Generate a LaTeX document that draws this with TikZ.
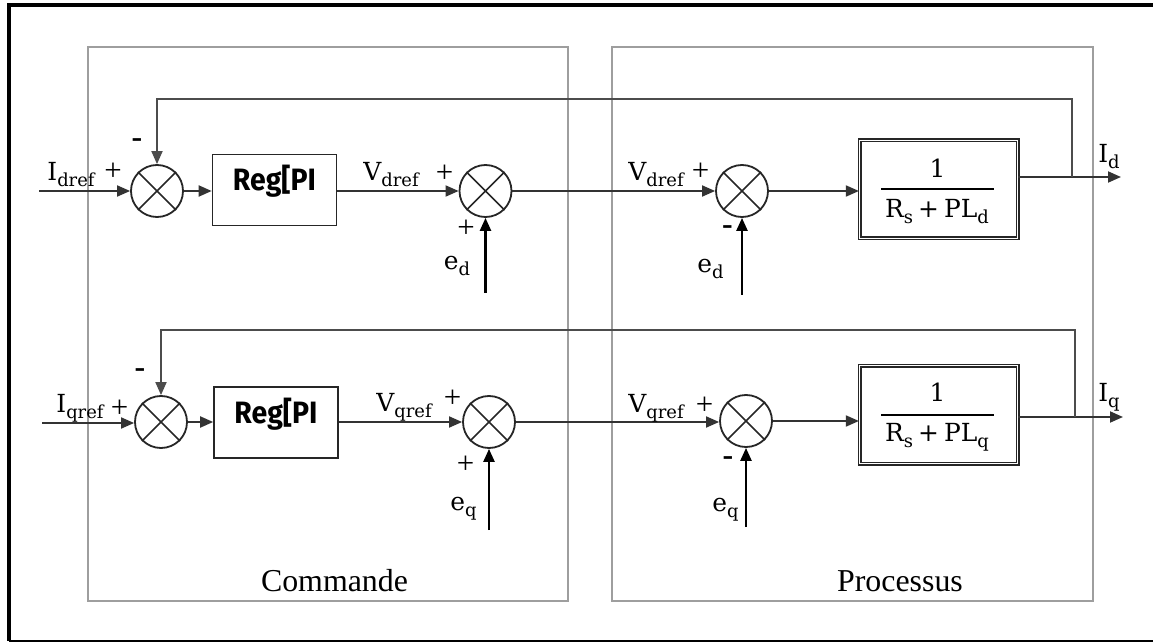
\documentclass[tikz,border=0pt]{standalone}
\usepackage{fontspec}
\setmainfont{Liberation Serif}
\newfontfamily\regfont[FakeStretch=0.92]{Fira Sans}
\newfontfamily\labfont{DejaVu Serif}
\usetikzlibrary{arrows.meta}
% symbol with a lowered, smaller index
\newcommand\symsub[2]{#1\raisebox{-6bp}{\fontsize{18}{20}\selectfont #2}}

\begin{document}
\begin{tikzpicture}[x=1bp,y=-1bp,
  sigtip/.tip={Triangle[length=13bp,width=11bp]},
  sig/.style={draw=black!80, line width=1.8bp, -sigtip},
  feedsig/.style={draw=black!70, line width=1.8bp, -sigtip},
  thickin/.style={draw=black, line width=2.4bp, -sigtip},
  sumnode/.style={circle, draw=black!85, line width=1.8bp, minimum size=52bp, inner sep=0pt},
  crossline/.style={draw=black!85, line width=1.6bp},
  regbox/.style={draw=black!85, line width=1.6bp, minimum width=124bp, minimum height=71bp, inner sep=0pt},
  regtxt/.style={inner sep=0pt, font=\regfont\bfseries\fontsize{31}{32}\selectfont},
  tfbox/.style={draw=black!85, double, double distance=1.6bp, line width=1.2bp, minimum width=158bp, minimum height=98bp, inner sep=0pt},
  fracbar/.style={draw=black, line width=1.6bp},
  zone/.style={draw=black!38, line width=2bp},
  lbl/.style={inner sep=0pt, font=\labfont\fontsize{25}{30}\selectfont},
  sgn/.style={inner sep=0pt, font=\fontsize{31}{32}\selectfont},
  negsgn/.style={inner sep=0pt, font=\fontsize{32}{32}\selectfont\bfseries},
  zonecap/.style={inner sep=0pt, font=\fontsize{32}{38}\selectfont}
]
\useasboundingbox (0,0) rectangle (1153,643);

% outer frame
\draw[line width=4bp] (1153,5) -- (9,5) -- (9,641);
\draw[line width=1.6bp] (9,641) -- (1153,641);

% controller and plant zones
\draw[zone] (88,47) rectangle (568,601);
\draw[zone] (612,47) rectangle (1093,601);
\node[zonecap] (cmd) at (334.5,581) {Commande};
\node[zonecap] (proc) at (900,581) {Processus};

% ---------------- d axis ----------------
\node[sumnode] (s1) at (157,191) {};
\node[regbox] (r1) at (274.5,190) {};
\node[regtxt] (r1t) at ([yshift=9bp]r1.center) {Reg[PI};
\node[sumnode] (s2) at (485.5,191) {};
\node[sumnode] (s3) at (742,191) {};
\node[tfbox] (b1) at (938.5,189.5) {};
\node[lbl] (b1n) at (937.5,168) {1};
\draw[fracbar] ([xshift=-57.5bp,yshift=0.5bp]b1.center) -- ([xshift=55.5bp,yshift=0.5bp]b1.center);
\node[lbl] (b1d) at (937,212) {\symsub{R}{s}\hspace{5bp}+\hspace{5bp}P\symsub{L}{d}};

\coordinate (in1) at (39,191);
\coordinate (out1) at (1121,177);
\coordinate (tap1) at (1072,177);
\coordinate (ed1) at (485.5,293);
\coordinate (ed2) at (742,295);

\draw[sig] (in1) -- (s1.west);
\draw[sig] (s1.east) -- (s1.east -| r1.west);
\draw[sig] (r1.east |- s2) -- (s2.west);
\draw[sig] (s2.east) -- (s3.west);
\draw[sig] (s3.east) -- (s3.east -| b1.west);
\draw[sig] (out1 -| b1.east) -- (out1);
\draw[feedsig] (tap1) -- ++(0,-78) -| (s1.north);
\draw[thickin] (ed1) -- (s2.south);
\draw[thickin] (ed2) -- (s3.south);

\node[lbl] (lidref) at (71,175) {\symsub{I}{dref}};
\node[sgn] (p1) at (113,172) {+};
\node[negsgn] (m1) at (137,143) {-};
\node[lbl] (lvd1) at (391,175) {\symsub{V}{dref}};
\node[sgn] (p2) at (444.5,174) {+};
\node[sgn] (p3) at (466,229) {+};
\node[lbl] (led1) at (457,266) {\symsub{e}{d}};
\node[lbl] (lvd2) at (656,175) {\symsub{V}{dref}};
\node[sgn] (p4) at (700.5,171.5) {+};
\node[negsgn] (m2) at (727.5,230.5) {-};
\node[lbl] (led2) at (710.5,268.5) {\symsub{e}{d}};
\node[lbl] (lid) at (1109,156.5) {\symsub{I}{d}};

% ---------------- q axis ----------------
\node[sumnode] (s4) at (161,422) {};
\node[regbox] (r2) at (276,422.5) {};
\node[regtxt] (r2t) at ([yshift=8bp]r2.center) {Reg[PI};
\node[sumnode] (s5) at (489,422) {};
\node[sumnode] (s6) at (746,421) {};
\node[tfbox] (b2) at (938.5,414.5) {};
\node[lbl] (b2n) at (937.5,392.5) {1};
\draw[fracbar] ([xshift=-57.5bp,yshift=-0.5bp]b2.center) -- ([xshift=55.5bp,yshift=-0.5bp]b2.center);
\node[lbl] (b2d) at (937,437) {\symsub{R}{s}\hspace{5bp}+\hspace{5bp}P\symsub{L}{q}};

\coordinate (in2) at (42,423);
\coordinate (out2) at (1123,417);
\coordinate (tap2) at (1075,417);
\coordinate (eq1) at (489,530);
\coordinate (eq2) at (746,527);

\draw[sig] (in2) -- (in2 -| s4.west);
\draw[sig] (s4.east) -- (s4.east -| r2.west);
\draw[sig] (r2.east |- s5) -- (s5.west);
\draw[sig] (s5.east) -- (s5.east -| s6.west);
\draw[sig] (s6.east) -- (s6.east -| b2.west);
\draw[sig] (out2 -| b2.east) -- (out2);
\draw[feedsig] (tap2) -- ++(0,-87) -| (s4.north);
\draw[thickin] (eq1) -- (s5.south);
\draw[thickin] (eq2) -- (s6.south);

\node[lbl] (liqref) at (80,408) {\symsub{I}{qref}};
\node[sgn] (p5) at (119.5,408.5) {+};
\node[negsgn] (m3) at (140,373.5) {-};
\node[lbl] (lvq1) at (404,407.5) {\symsub{V}{qref}};
\node[sgn] (p6) at (452.5,398.5) {+};
\node[sgn] (p7) at (465.5,465) {+};
\node[lbl] (leq1) at (463.5,508.5) {\symsub{e}{q}};
\node[lbl] (lvq2) at (656,408) {\symsub{V}{qref}};
\node[sgn] (p8) at (704.5,406) {+};
\node[negsgn] (m4) at (728,461) {-};
\node[lbl] (leq2) at (725.5,509.5) {\symsub{e}{q}};
\node[lbl] (liq) at (1109,397) {\symsub{I}{q}};

% crosses inside the summing junctions
\foreach \s in {s1,s2,s3,s4,s5,s6}
  \draw[crossline] (\s.north east) -- (\s.south west) (\s.north west) -- (\s.south east);
\end{tikzpicture}
\end{document}
